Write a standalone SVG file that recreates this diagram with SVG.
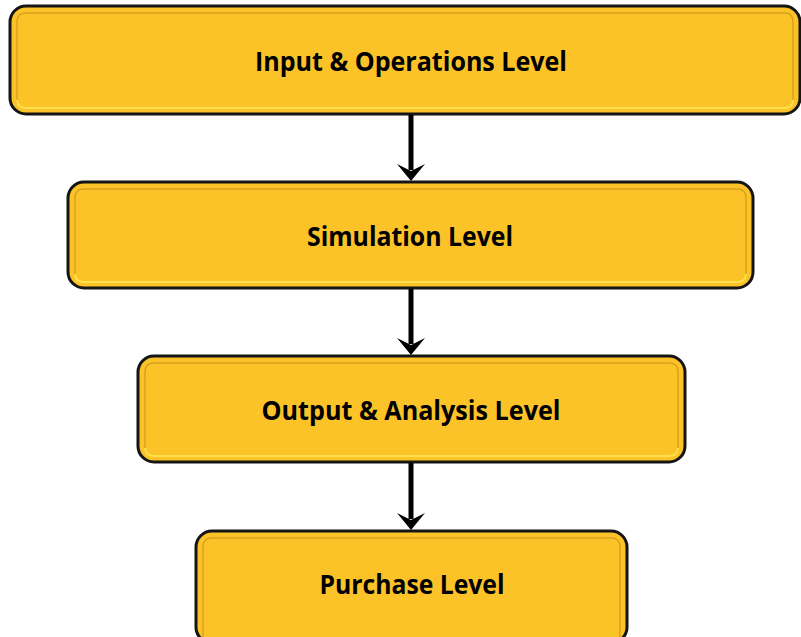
<svg xmlns="http://www.w3.org/2000/svg" width="801" height="637" viewBox="0 0 801 637">
  <style>
    .box { fill: #FBC328; stroke: #151515; stroke-width: 3; }
    .bevel-top { fill: none; stroke: #D9A21C; stroke-width: 1.5; }
    .bevel-bot { fill: none; stroke: #FFE04A; stroke-width: 2; }
    .label { font-family: "Open Sans", "Liberation Sans", sans-serif; font-weight: bold; font-size: 26px; fill: #000; text-anchor: middle; }
    .shaft { stroke: #000; stroke-width: 5; fill: none; }
    .head { fill: #000; }
  </style>
  <rect width="801" height="637" fill="#fff"/>

  <g id="input-operations">
    <rect class="box" x="10" y="6" width="790" height="108" rx="16"/>
    <path class="bevel-top" d="M17,104 V22 Q17,13 26,13 H785 Q793,13 793,22 V104"/>
    <path class="bevel-bot" d="M17,100 Q17,108 26,108 H785 Q793,108 793,100"/>
    <text class="label" x="411" y="71" textLength="312" lengthAdjust="spacingAndGlyphs">Input &amp; Operations Level</text>
  </g>

  <g id="simulation">
    <rect class="box" x="68" y="182" width="685" height="106" rx="16"/>
    <path class="bevel-top" d="M75,278 V198 Q75,189 84,189 H737 Q746,189 746,198 V278"/>
    <path class="bevel-bot" d="M75,274 Q75,282 84,282 H737 Q746,282 746,274"/>
    <text class="label" x="410" y="246" textLength="206" lengthAdjust="spacingAndGlyphs">Simulation Level</text>
  </g>

  <g id="output-analysis">
    <rect class="box" x="138" y="356" width="547" height="106" rx="16"/>
    <path class="bevel-top" d="M145,452 V372 Q145,363 154,363 H669 Q678,363 678,372 V452"/>
    <path class="bevel-bot" d="M145,448 Q145,456 154,456 H669 Q678,456 678,448"/>
    <text class="label" x="411" y="420" textLength="299" lengthAdjust="spacingAndGlyphs">Output &amp; Analysis Level</text>
  </g>

  <g id="purchase">
    <rect class="box" x="196" y="531" width="431" height="112" rx="16"/>
    <path class="bevel-top" d="M203,640 V547 Q203,538 212,538 H611 Q620,538 620,547 V640"/>
    <text class="label" x="412" y="594" textLength="185" lengthAdjust="spacingAndGlyphs">Purchase Level</text>
  </g>

  <g id="connectors">
    <line class="shaft" x1="411" y1="115" x2="411" y2="170"/>
    <path class="head" d="M411,181 L397,164 L411,171 L425,164 Z"/>
    <line class="shaft" x1="411" y1="289" x2="411" y2="344"/>
    <path class="head" d="M411,355 L397,338 L411,345 L425,338 Z"/>
    <line class="shaft" x1="411" y1="463" x2="411" y2="519"/>
    <path class="head" d="M411,530 L397,513 L411,520 L425,513 Z"/>
  </g>
</svg>
